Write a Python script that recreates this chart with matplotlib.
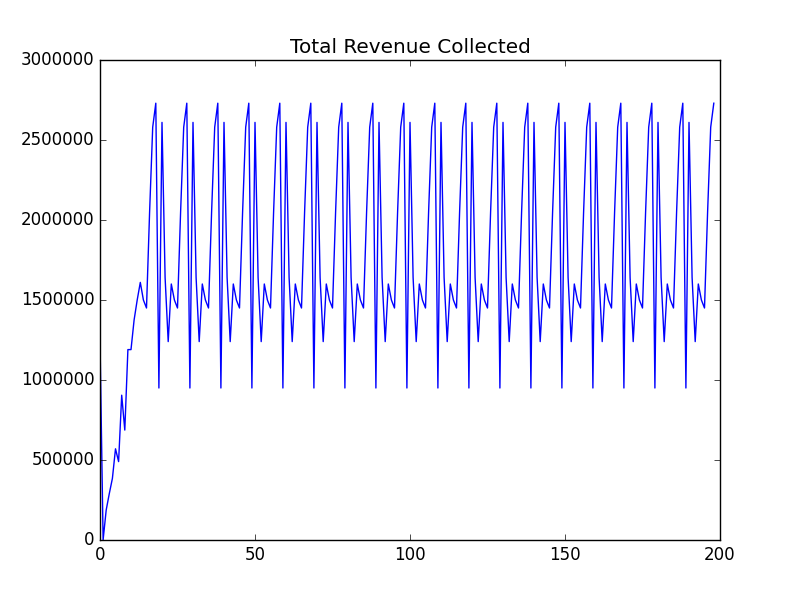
import numpy as np
import matplotlib
matplotlib.use("Agg")
import matplotlib.pyplot as plt

plt.style.use("classic")

# ramp-up values (days 0-18)
ramp = [1250000, 0, 187500, 290000, 385000, 570000, 490000, 905000, 687000,
        1190000, 1190000, 1375000, 1500000, 1610000, 1500000, 1450000,
        2050000, 2580000, 2730000]
# the repeating 10-day cycle seen from day 19 onward
cycle = [950000, 2610000, 1640000, 1240000, 1600000, 1500000, 1450000,
         2050000, 2580000, 2730000]
n_cycles = 18

revenue = ramp + cycle * n_cycles
days = np.arange(len(revenue))

fig = plt.figure(figsize=(8, 6), dpi=100)
plt.plot(days, revenue, color="blue")
plt.title("Total Revenue Collected")
plt.xlim(0, 200)
plt.ylim(0, 3000000)
plt.ticklabel_format(style="plain", axis="y", useOffset=False)
plt.savefig("out.png")
